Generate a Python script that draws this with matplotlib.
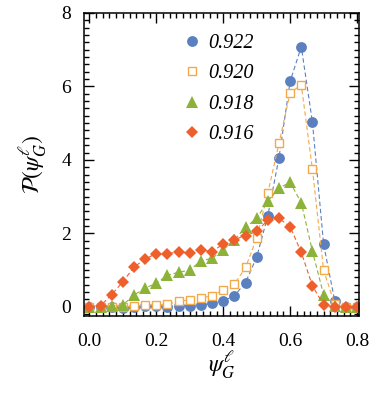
import matplotlib
matplotlib.use("Agg")
import matplotlib.pyplot as plt
from matplotlib.ticker import MultipleLocator
import numpy as np

plt.rcParams['font.family'] = ['Liberation Serif', 'DejaVu Serif']
plt.rcParams['mathtext.fontset'] = 'stix'

x_vals = [i / 30 for i in range(25)]

labels = ["0.922", "0.920", "0.918", "0.916"]

p_0922 = [0.0, 0.0, 0.0, -0.03, 0.0, 0.01, 0.01, 0.0, 0.03, 0.03, 0.05, 0.09,
          0.16, 0.30, 0.66, 1.35, 2.48, 4.06, 6.14, 7.08, 5.02, 1.70, 0.16, 0.0, 0.0]
p_0920 = [0.0, 0.0, 0.0, 0.0, 0.01, 0.05, 0.05, 0.07, 0.15, 0.19, 0.25, 0.29,
          0.46, 0.61, 1.07, 1.87, 3.10, 4.45, 5.83, 6.04, 3.74, 1.00, 0.07, 0.0, 0.0]
p_0918 = [0.0, 0.0, 0.02, 0.05, 0.32, 0.51, 0.64, 0.86, 0.94, 1.00, 1.25, 1.32,
          1.55, 1.82, 2.16, 2.41, 2.87, 3.23, 3.39, 2.83, 1.51, 0.33, 0.03, 0.0, 0.0]
p_0916 = [0.0, 0.03, 0.33, 0.68, 1.08, 1.30, 1.45, 1.44, 1.50, 1.46, 1.55, 1.50,
          1.71, 1.83, 1.94, 2.05, 2.36, 2.41, 2.18, 1.48, 0.57, 0.05, 0.0, 0.0, 0.0]

series = [p_0922, p_0920, p_0918, p_0916]
colors = ["#5b80c0", "#f2a94a", "#8cb23a", "#ef5f2b"]
markers = ["o", "s", "^", "D"]
msizes = [7.8, 6.0, 8.0, 6.5]
facecols = ["#5b80c0", "white", "#8cb23a", "#ef5f2b"]

fig = plt.figure(figsize=(3.82, 3.93), dpi=100)
ax = fig.add_axes([0.2190, 0.1960, 0.7210, 0.7710])

for ys, c, m, ms, fc, lab in zip(series, colors, markers, msizes, facecols, labels):
    ax.plot(x_vals, ys, linestyle=(0, (4, 2.5)), linewidth=0.8, color=c,
            marker=m, markersize=ms, markerfacecolor=fc, markeredgecolor=c,
            markeredgewidth=1.0 if m == "s" else 0.0, label=lab)

ax.set_xlim(-0.017, 0.806)
ax.set_ylim(-0.25, 8)
ax.xaxis.set_major_locator(MultipleLocator(0.2))
ax.xaxis.set_minor_locator(MultipleLocator(0.02))
ax.yaxis.set_major_locator(MultipleLocator(2))
ax.yaxis.set_minor_locator(MultipleLocator(0.2))
ax.xaxis.set_major_formatter(matplotlib.ticker.FormatStrFormatter('%.1f'))
ax.tick_params(which='both', direction='in', top=True, right=True, labelsize=14,
               width=1.0, color='black')
ax.tick_params(which='major', length=7)
ax.tick_params(which='minor', length=3.5)
ax.tick_params(axis='x', pad=12)
ax.tick_params(axis='y', pad=9)
for sp in ax.spines.values():
    sp.set_linewidth(1.1)

ax.set_xlabel(r'$\psi^{\ell}_{G}$', fontsize=17, labelpad=0)
ax.set_ylabel(r'$\mathcal{P}(\psi^{\ell}_{G})$', fontsize=17, labelpad=9)

leg = ax.legend(loc='upper left', bbox_to_anchor=(0.30, 0.99), frameon=False,
                prop={'style': 'italic', 'size': 14.5, 'family': 'Liberation Serif'},
                handlelength=0.8, handletextpad=0.4, labelspacing=0.55,
                numpoints=1)
for h in leg.legend_handles:
    h.set_linestyle('None')

fig.savefig("out.png", dpi=100)
